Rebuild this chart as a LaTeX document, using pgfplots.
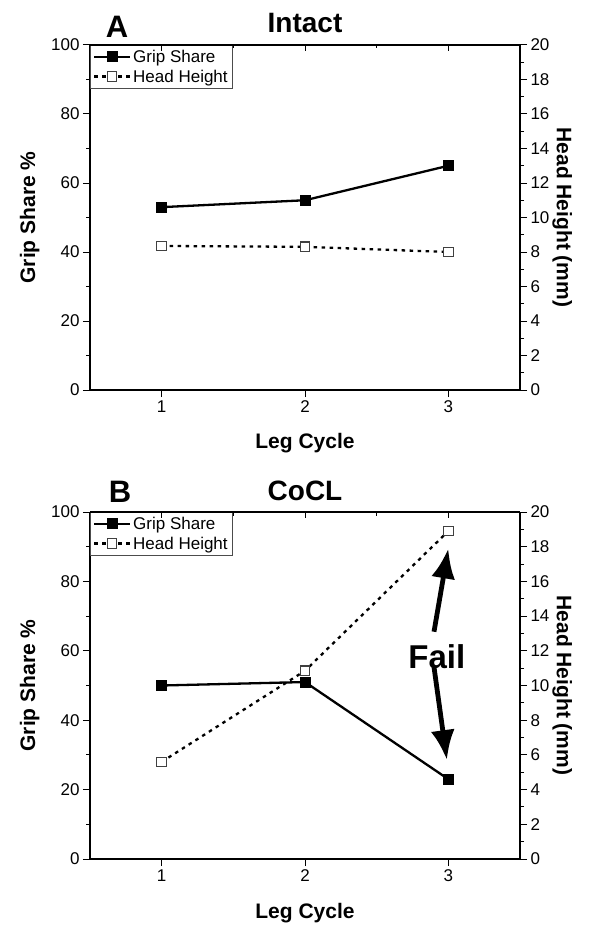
\documentclass[border=0pt]{standalone}
\usepackage{fontspec}
\setmainfont{Liberation Sans}
\usepackage{pgfplots}
\pgfplotsset{compat=1.18}
\usetikzlibrary{arrows.meta}

\newcommand{\lblfont}{\bfseries\fontsize{21}{24}\selectfont}
\tikzset{fail/.style={line width=4.8pt, -{Latex[length=30pt,width=24pt]}}}
\pgfplotsset{
  panel/.style={scale only axis, width=430pt, xmin=0.5, xmax=3.5,
    /pgf/number format/assume math mode=true,
    tick label style={font=\fontsize{17}{20}\selectfont},
    major tick length=7pt, minor tick length=4pt,
    tick style={line width=1pt, black},
    axis line style={line width=1.3pt, -}},
  lefty/.style={panel, ymin=0, ymax=100, clip=false,
    axis x line*=bottom, axis y line*=left, tick align=outside,
    xtick={1,2,3}, ytick={0,20,...,100}, minor y tick num=1,
    xlabel={Leg Cycle}, ylabel={Grip Share \%},
    every axis x label/.style={at={(axis description cs:0.5,-0.155)}, anchor=center, font=\lblfont},
    every axis y label/.style={at={(axis description cs:-0.14,0.5)}, rotate=90, anchor=center, font=\lblfont},
    legend style={at={(0,1)}, anchor=north west, draw=black!70, line width=0.8pt,
      font=\fontsize{17}{19}\selectfont, inner sep=2.5pt, row sep=2pt,
      cells={anchor=west}},
    legend image code/.code={\draw[mark repeat=2, mark phase=2, #1]
      plot coordinates {(0pt,0pt) (18pt,0pt) (36pt,0pt)};}},
  righty/.style={panel, ymin=0, ymax=20,
    axis y line*=right, axis x line=none, tick align=outside,
    ytick={0,2,...,20}, minor y tick num=1,
    ylabel={Head Height (mm)},
    every axis y label/.style={at={(axis description cs:1.098,0.5)}, rotate=-90, anchor=center, font=\lblfont}},
  topx/.style={panel, ymin=0, ymax=1,
    axis x line*=top, axis y line=none, tick align=inside,
    xtick={1,2,3}, minor x tick num=1, xticklabels={},
    major tick length=6pt, minor tick length=3.5pt},
  gs/.style={black, line width=2.3pt, mark=square*, mark size=5pt, mark options={solid, line width=1pt}},
  hh/.style={black, line width=2.3pt, dash pattern=on 3.5pt off 4.5pt, mark=square*,
    mark size=4.8pt, mark options={solid, fill=white, draw=black!75, line width=1.1pt}},
}

\begin{document}
\begin{tikzpicture}
\path[use as bounding box] (0,0) rectangle (589pt,-925pt);

% Panel A
\begin{axis}[lefty, height=345pt, at={(90pt,-390pt)}, anchor=south west]
  \addplot[gs] coordinates {(1,53) (2,55) (3,65)};
  \addlegendentry{Grip Share}
  \addlegendimage{hh}
  \addlegendentry{Head Height}
  \node[font=\bfseries\fontsize{31}{31}\selectfont, anchor=base] at (axis description cs:0.063,1.023) {A};
  \node[font=\bfseries\fontsize{28}{28}\selectfont, anchor=base] at (axis description cs:0.5,1.035) {Intact};
\end{axis}
\begin{axis}[righty, height=345pt, at={(90pt,-390pt)}, anchor=south west]
  \addplot[hh] coordinates {(1,8.35) (2,8.3) (3,8.0)};
\end{axis}
\begin{axis}[topx, height=345pt, at={(90pt,-390pt)}, anchor=south west]
\end{axis}

% Panel B
\begin{axis}[lefty, height=347pt, at={(90pt,-859pt)}, anchor=south west]
  \addplot[gs] coordinates {(1,50) (2,51) (3,23)};
  \addlegendentry{Grip Share}
  \addlegendimage{hh}
  \addlegendentry{Head Height}
  \node[font=\bfseries\fontsize{31}{31}\selectfont, anchor=base] at (axis description cs:0.07,1.026) {B};
  \node[font=\bfseries\fontsize{28}{28}\selectfont, anchor=base] at (axis description cs:0.5,1.032) {CoCL};
  \node[font=\bfseries\fontsize{33}{33}\selectfont] at (axis cs:2.92,58.2) {Fail};
  \draw[fail] (axis cs:2.9,65.5) -- (axis cs:3.0,89.5);
  \draw[fail] (axis cs:2.9,55.3) -- (axis cs:2.99,28.5);
\end{axis}
\begin{axis}[righty, height=347pt, at={(90pt,-859pt)}, anchor=south west]
  \addplot[hh] coordinates {(1,5.6) (2,10.85) (3,18.9)};
\end{axis}
\begin{axis}[topx, height=347pt, at={(90pt,-859pt)}, anchor=south west]
\end{axis}
\end{tikzpicture}
\end{document}
